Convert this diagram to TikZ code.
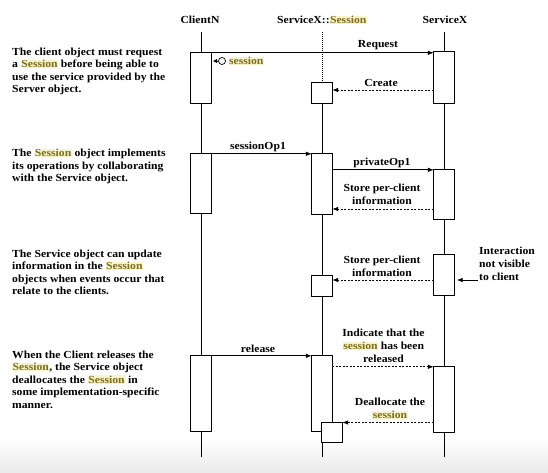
\documentclass[tikz,border=0pt]{standalone}
\usepackage{fontspec}
\setmainfont{Liberation Serif}[FakeStretch=1.08]
\usetikzlibrary{arrows.meta,calc}
\definecolor{hlfg}{RGB}{125,110,25}
\definecolor{hlbg}{RGB}{247,244,205}
\newcommand\hlsess[1]{{\setlength{\fboxsep}{0.4pt}\colorbox{hlbg}{\color{hlfg}#1}}}
\begin{document}
\begin{tikzpicture}[x=1pt,y=-1pt,
  every node/.style={font=\bfseries\fontsize{10.8}{12.5}\selectfont, inner sep=0pt},
  act/.style={draw, fill=white, minimum width=20pt, line width=0.8pt},
  life/.style={line width=0.8pt},
  msg/.style={line width=0.8pt, -{Latex[length=6pt,width=4.5pt]}},
  ret/.style={msg, dash pattern=on 2pt off 1.5pt},
  note/.style={align=left, anchor=north west},
  lbl/.style={align=center, font=\bfseries\fontsize{10.8}{13}\selectfont}]
\useasboundingbox (0,0) rectangle (548,472);
\shade[top color=white, bottom color=black!8] (0,438) rectangle (548,472);

% headers
\node (hc) at (200,20) {ClientN};
\node (hs) at (322,20) {ServiceX::\hlsess{Session}};
\node (hx) at (445,20) {ServiceX};

% lifeline end points
\coordinate (ct) at (201,32);  \coordinate (cb) at (201,457);
\coordinate (st) at (322,32);  \coordinate (sb) at (322,457);
\coordinate (xt) at (444,32);  \coordinate (xb) at (444,457);

% activation boxes (positions only; drawn after the lifelines)
\path
  (201,78)    node[minimum width=20pt, minimum height=50pt] (c1) {}
  (444,77.5)  node[minimum width=20pt, minimum height=51pt] (x1) {}
  (322,93)    node[minimum width=20pt, minimum height=20pt] (s1) {}
  (201,183.5) node[minimum width=20pt, minimum height=59pt] (c2) {}
  (322,184)   node[minimum width=20pt, minimum height=60pt] (s2) {}
  (444,194.5) node[minimum width=20pt, minimum height=49pt] (x2) {}
  (444,275)   node[minimum width=20pt, minimum height=40pt] (x3) {}
  (322,286)   node[minimum width=20pt, minimum height=20pt] (s3) {}
  (201,393.5) node[minimum width=20pt, minimum height=75pt] (c3) {}
  (322,393.5) node[minimum width=20pt, minimum height=75pt] (s4) {}
  (444,399.5) node[minimum width=20pt, minimum height=65pt] (x4) {}
  (332,432.5) node[minimum width=20pt, minimum height=19pt] (s5) {};

% lifelines
\draw[life] (ct) -- (cb);
\draw[life] (xt) -- (xb);
\draw[life, dash pattern=on 1pt off 1pt] (st) -- (s1.north);
\draw[life] (s1.south) -- (sb);

% activation boxes on top
\foreach \b in {c1,x1,s1,c2,s2,x2,x3,s3,c3,s4,x4,s5}
  \draw[line width=0.8pt, fill=white] (\b.north west) rectangle (\b.south east);

% request / create
\draw[msg] (c1.north east) -- (c1.north east -| x1.west);
\node (lreq) at (378,45) {Request};
\node[circle, draw, minimum size=7pt, line width=0.7pt] (tok) at (222,61) {};
\draw[line width=0.8pt, -{Latex[length=4.5pt,width=4.5pt]}, shorten >=1.5pt] (tok.west) -- (c1.east |- tok);
\node[anchor=west] (tokl) at (228.5,61) {\hlsess{session}};
\coordinate (ycr) at (0,90);
\draw[ret] (x1.west |- ycr) -- (s1.east |- ycr);
\node (lcr) at (381,83) {Create};

% sessionOp1 / privateOp1 / store
\draw[msg] (c2.north east) -- (s2.north west);
\node (lso) at (258,147) {sessionOp1};
\draw[msg] (s2.east |- x2.north) -- (x2.north west);
\node (lpo) at (382,163) {privateOp1};
\coordinate (yst) at (0,209);
\draw[ret] (x2.west |- yst) -- (s2.east |- yst);
\node[lbl] (lst1) at (382,194.5) {Store per-client\\information};

% service update
\coordinate (yup) at (0,280);
\draw[ret] (x3.west |- yup) -- (s3.east |- yup);
\node[lbl] (lst2) at (382,266) {Store per-client\\information};
\node[align=left, anchor=west, font=\bfseries\fontsize{10.8}{13}\selectfont] (int) at (479,264) {Interaction\\not visible\\to client};
\coordinate (ia) at (478,280);
\draw[msg, shorten >=2.5pt] (ia) -- (x3.east |- ia);

% release
\draw[msg] (c3.north east) -- (s4.north west);
\node (lrel) at (258,349) {release};
\draw[ret] (s4.east |- x4.north) -- (x4.north west);
\node[lbl] (lind) at (383.5,346) {Indicate that the\\\hlsess{session} has been\\released};
\coordinate (yde) at (0,422.5);
\draw[ret] (x4.west |- yde) -- (s5.east |- yde);
\node[lbl] (ldea) at (390,408.5) {Deallocate the\\\hlsess{session}};

% left notes
\node[note] (n1) at (12,47.5) {The client object must request\\a \hlsess{Session} before being able to\\use the service provided by the\\Server object.};
\node[note] (n2) at (12,148.5) {The \hlsess{Session} object implements\\its operations by collaborating\\with the Service object.};
\node[note] (n3) at (12,249.5) {The Service object can update\\information in the \hlsess{Session}\\objects when events occur that\\relate to the clients.};
\node[note] (n4) at (12,350.5) {When the Client releases the\\\hlsess{Session}, the Service object\\deallocates the \hlsess{Session} in\\some implementation-specific\\manner.};
\end{tikzpicture}
\end{document}
